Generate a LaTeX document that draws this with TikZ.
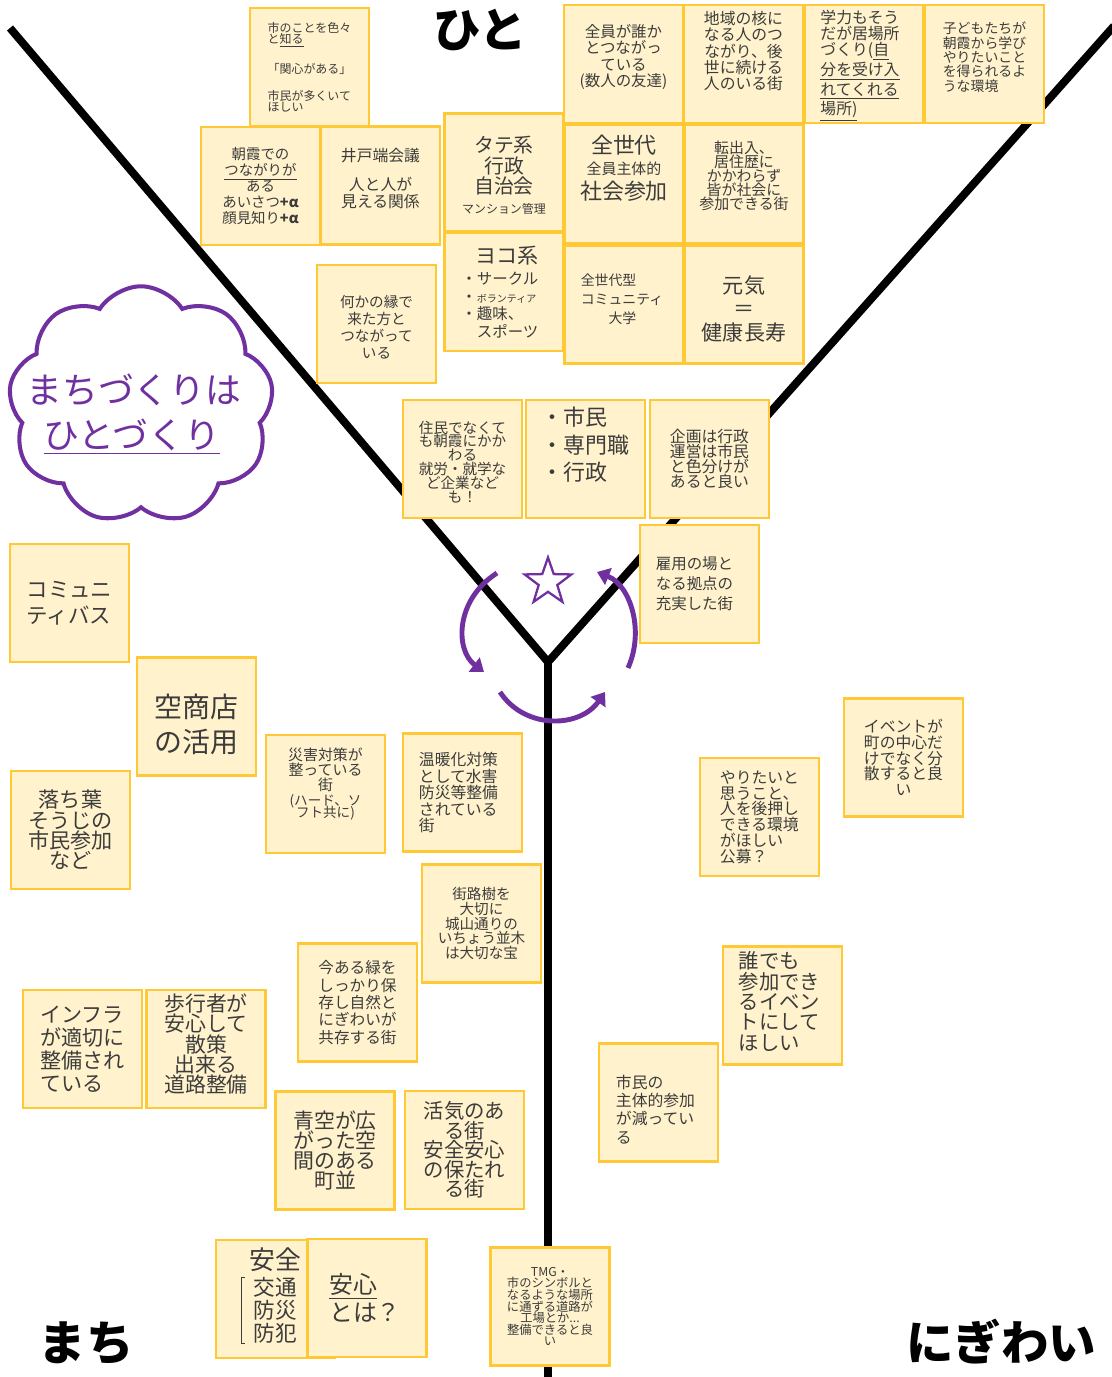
\documentclass[tikz,border=0pt]{standalone}
\usepackage{fontspec}
\setmainfont{Noto Sans CJK JP}
\usetikzlibrary{shapes.geometric,shapes.symbols,arrows.meta}
\definecolor{memofill}{HTML}{FFF2CC}
\definecolor{memoedge}{HTML}{FFC936}
\definecolor{memoink}{HTML}{3C3C3C}
\definecolor{purp}{HTML}{7030A0}
\newcommand{\fz}[2]{\fontsize{#1}{#2}\selectfont}
\newcommand{\memo}[4][]{\node[memobox] (#2) at (#3) {};\node[memotext, #1] (#2txt) at (#2.center) {#4};}
\tikzset{memobox/.style={draw=memoedge, fill=memofill, line width=1.3pt, minimum width=2.38cm, minimum height=2.36cm, inner sep=0pt},
  memotext/.style={text=memoink, align=center, inner sep=0pt},
  yarm/.style={line width=4.5pt},
  ttl/.style={font=\fz{27}{27}\bfseries, inner sep=0pt},
  spin/.style={draw=purp, line width=2.8pt, -{Triangle[length=7pt, width=10pt]}}}

\begin{document}
\begin{tikzpicture}[x=0.02cm, y=-0.02cm]
\useasboundingbox (0,0) rectangle (1112,1377);
\coordinate (fork) at (548,662);
\coordinate (armL) at (10,28);
\coordinate (armR) at (1114,26);
\coordinate (stemend) at (548,1380);
\draw[yarm] (armL) -- (fork) -- (armR);
\draw[yarm] (fork) -- (stemend);
\node[ttl] (hito) at (480,30) {ひと};
\node[ttl] (machi) at (86,1343) {まち};
\node[ttl] (nigiwai) at (1001,1342) {にぎわい};
\node[cloud, cloud puffs=9, cloud puff arc=115, aspect=1.1, draw=purp, fill=white, line width=2.3pt, minimum width=5.3cm, minimum height=4.75cm] (kumo) at (141,405) {};
\node[text=purp, font=\fz{20.4}{21}, inner sep=0pt] (slogan1) at (134,390) {まちづくりは};
\node[text=purp, font=\fz{20.4}{21}, inner sep=0pt] (slogan2) at (132,437) {\underline{ひとづくり}};
\node[star, star points=5, star point ratio=2.5, draw=purp, line width=1.3pt, minimum size=0.98cm, inner sep=0pt] (hoshi) at (548,582) {};
\draw[spin] (497,573) .. controls (455,600) and (455,650) .. (484,672);
\draw[spin] (500,692) .. controls (525,730) and (580,728) .. (605,692);
\draw[spin] (628,668) .. controls (645,630) and (630,585) .. (597,572);
\memo[align=left, font=\fz{6.8}{6.3}]{shiru}{309.5,67}{市のことを色々\\と\underline{知る}\\[8pt]「関心がある」\\[8pt]市民が多くいて\\ほしい}
\memo[font=\fz{8.2}{9}]{asaka}{260.5,186}{朝霞での\\\underline{つながりが}\\ある\\あいさつ\textbf{+α}\\顔見知り\textbf{+α}}
\memo[font=\fz{9}{9.5}, yshift=0.14cm]{idobata}{380.5,185.5}{井戸端会議\\[7pt]人と人が\\見える関係}
\memo[font=\fz{8.8}{9.4}, yshift=0.14cm]{zenin}{623.5,64}{全員が誰か\\とつながっ\\ている\\(数人の友達)}
\memo[font=\fz{9}{9.2}, yshift=0.26cm]{chiiki}{743.5,64}{地域の核に\\なる人のつ\\ながり、後\\世に続ける\\人のいる街}
\memo[align=left, font=\fz{9}{9.3}, xshift=-0.08cm, yshift=-0.03cm]{gakuryoku}{864,64}{学力もそう\\だが居場所\\づくり(\underline{自}\\\underline{分を受け入}\\\underline{れてくれる}\\\underline{場所)}}
\memo[align=left, font=\fz{7.9}{6.9}, yshift=0.14cm]{kodomo}{984.5,64}{子どもたちが\\朝霞から学び\\やりたいこと\\を得られるよ\\うな環境}
\memo[font=\fz{11.3}{11.5}, yshift=-0.06cm]{tate}{504,172.5}{タテ系\\行政\\自治会\\{\fz{6.8}{7}マンション管理}}
\memo[font=\fz{12.5}{12}, yshift=0.32cm]{zensedai}{624,184}{全世代\\{\fz{8.5}{9}全員主体的}\\[2pt]社会参加}
\memo[font=\fz{8.5}{8}, yshift=0.16cm]{tenshutsu}{744,184}{転出入、\\居住歴に\\かかわらず\\皆が社会に\\参加できる街}
\memo[align=left, font=\fz{8.8}{10}, xshift=-0.08cm]{yoko}{504,292}{{\fz{12}{12}\hspace*{0.28cm}ヨコ系}\\[2pt]・サークル\\・{\fz{5.7}{6}ボランティア}\\・趣味、\\\hspace*{1em}スポーツ}
\memo[align=left, font=\fz{7.9}{10.8}, xshift=-0.04cm, yshift=0.1cm]{daigaku}{624,304.5}{全世代型\\コミュニティ\\\hspace*{2em}大学}
\memo[font=\fz{12}{13.6}, yshift=-0.09cm]{genki}{744,304.5}{元気\\＝\\健康長寿}
\memo[font=\fz{8.3}{9.6}, yshift=-0.06cm]{en}{376.5,324}{何かの縁で\\来た方と\\つながって\\いる}
\memo[font=\fz{8.3}{7.9}, yshift=-0.06cm]{shuro}{462.5,459}{住民でなくて\\も朝霞にかか\\わる\\就労・就学な\\ど企業など\\も！}
\memo[align=left, font=\fz{12.5}{15.6}, yshift=0.28cm]{shimin}{585.5,459}{・市民\\・専門職\\・行政}
\memo[font=\fz{9}{8.6}]{kikaku}{709.5,459}{企画は行政\\運営は市民\\と色分けが\\あると良い}
\memo[align=left, font=\fz{8.8}{11.3}, xshift=-0.1cm]{koyo}{699.5,584}{雇用の場と\\なる拠点の\\充実した街}
\memo[align=left, font=\fz{12.2}{14.7}]{bus}{69.5,603}{コミュニ\\ティバス}
\memo[align=left, font=\fz{15.9}{19.8}, yshift=-0.16cm]{akishoten}{196.5,716.5}{空商店\\の活用}
\memo[font=\fz{12}{11.6}]{ochiba}{70.5,830}{落ち葉\\そうじの\\市民参加\\など}
\memo[font=\fz{8.5}{8.6}, yshift=0.2cm]{saigai}{325.5,794}{災害対策が\\整っている\\街\\{\fz{7.7}{7}(ハード、ソ}\\[-2pt]{\fz{7.7}{7}フト共に)}}
\memo[align=left, font=\fz{9}{9.4}, xshift=-0.08cm]{ondanka}{462.5,792.5}{温暖化対策\\として水害\\防災等整備\\されている\\街}
\memo[font=\fz{8.3}{8.5}]{gairoju}{481.5,923.5}{街路樹を\\大切に\\城山通りの\\いちょう並木\\は大切な宝}
\memo[font=\fz{8.9}{9.9}]{midori}{357.5,1002.5}{今ある緑を\\しっかり保\\存し自然と\\にぎわいが\\共存する街}
\memo[align=left, font=\fz{12}{13}]{infra}{82.5,1049}{インフラ\\が適切に\\整備され\\ている}
\memo[font=\fz{11.9}{11.6}, yshift=0.1cm]{hokousha}{206,1049}{歩行者が\\安心して\\散策\\出来る\\道路整備}
\memo[font=\fz{11.9}{11.4}]{aozora}{335,1150.5}{青空が広\\がった空\\間のある\\町並}
\memo[font=\fz{11.6}{11.1}]{kakki}{464.5,1150}{活気のあ\\る街\\安全安心\\の保たれ\\る街}
\memo[align=left, font=\fz{9}{9}]{yaritai}{759.5,817}{やりたいと\\思うこと、\\人を後押し\\できる環境\\がほしい\\公募？}
\memo[font=\fz{9}{9}]{event}{903.5,757.5}{イベントが\\町の中心だ\\けでなく分\\散すると良\\い}
\memo[align=left, font=\fz{11.6}{11.6}, xshift=-0.06cm, yshift=0.08cm]{daredemo}{782.5,1005.5}{誰でも\\参加でき\\るイベン\\トにして\\ほしい}
\memo[align=left, font=\fz{9}{10.4}, xshift=-0.06cm, yshift=-0.14cm]{shutai}{658.5,1102.5}{市民の\\主体的参加\\が減ってい\\る}
\memo[font=\fz{14.7}{15}, yshift=0.78cm]{anzen}{275.5,1299}{安全}
\node[memotext, font=\fz{12.3}{13}, inner xsep=0.24cm] (anzenlist) at (275,1310) {交通\\防災\\防犯};
\draw[memoink, thin] ([xshift=0.08cm]anzenlist.north west) -- (anzenlist.north west) -- (anzenlist.south west) -- ([xshift=0.08cm]anzenlist.south west);
\memo[align=left, font=\fz{13.6}{15.9}, xshift=-0.04cm]{anshin}{367,1298}{\underline{安心}\\とは？}
\memo[font=\fz{7}{6.6}]{tmg}{550,1306.5}{TMG・\\市のシンボルと\\なるような場所\\に通ずる道路が\\工場とか...\\整備できると良\\い}
\end{tikzpicture}
\end{document}
